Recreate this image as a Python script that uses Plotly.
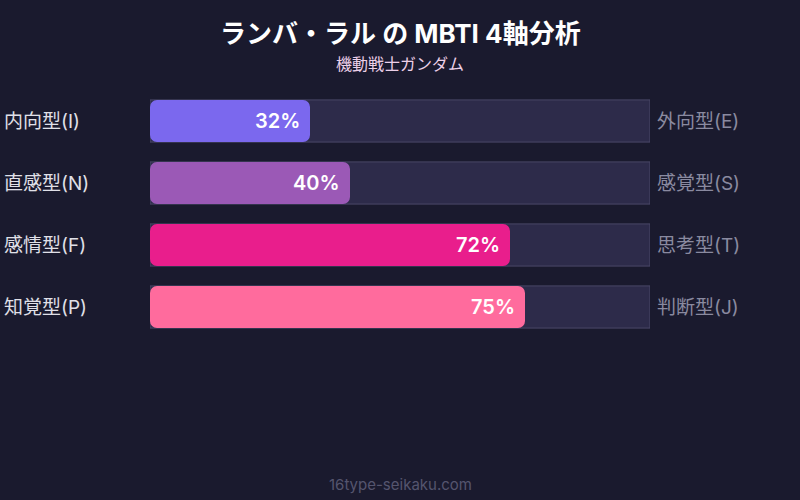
import plotly.graph_objects as go

# MBTI axes for the character
left_labels = ["内向型(I)", "直感型(N)", "感情型(F)", "知覚型(P)"]
right_labels = ["外向型(E)", "感覚型(S)", "思考型(T)", "判断型(J)"]
scores = [32, 40, 72, 75]
bar_colors = ["#7b68ee", "#9b59b6", "#e91e8c", "#ff6b9d"]
track_max = [100, 100, 100, 100]

FONT = "Inter, Noto Sans CJK JP, sans-serif"
BG = "#1a1a2e"
W, H = 800, 500
M_L, M_R, M_T, M_B = 150, 150, 90, 162

rows = list(range(len(scores)))

fig = go.Figure()
fig.add_trace(go.Bar(
    x=track_max, y=rows, orientation="h", width=0.68,
    marker=dict(color="#2d2b4a", line=dict(color="#4a4868", width=1)),
    hoverinfo="skip", showlegend=False,
))
# explicit base -> plotly rounds both ends of the bar
fig.add_trace(go.Bar(
    x=scores, base=[0] * len(scores), y=rows, orientation="h", width=0.68,
    marker=dict(color=bar_colors, cornerradius=7, line=dict(width=0)),
    hovertemplate="%{x}%<extra></extra>", showlegend=False,
))

for i, s in enumerate(scores):
    fig.add_annotation(x=s, y=i, xref="x", yref="y", text=f"{s}%",
                       xanchor="right", xshift=-8, showarrow=False,
                       font=dict(family=FONT, size=20, color="#ffffff", weight=600))
    fig.add_annotation(x=(2 - M_L) / (W - M_L - M_R), y=i, xref="paper", yref="y",
                       text=left_labels[i], xanchor="left", showarrow=False,
                       font=dict(family=FONT, size=19, color="#e0e0e8"))
    fig.add_annotation(x=(655 - M_L) / (W - M_L - M_R), y=i, xref="paper", yref="y",
                       text=right_labels[i], xanchor="left", showarrow=False,
                       font=dict(family=FONT, size=19, color="#8a8aa0"))

plot_h = H - M_T - M_B


def py(px_y):
    return (H - M_B - px_y) / plot_h


fig.add_annotation(x=0.5, y=py(33), xref="paper", yref="paper", yanchor="middle",
                   text="ランバ・ラル の MBTI 4軸分析", showarrow=False,
                   font=dict(family=FONT, size=26, color="#ffffff", weight="bold"))
fig.add_annotation(x=0.5, y=py(64), xref="paper", yref="paper", yanchor="middle",
                   text="機動戦士ガンダム", showarrow=False,
                   font=dict(family=FONT, size=16, color="#ecd0e8"))
fig.add_annotation(x=0.5, y=py(484), xref="paper", yref="paper", yanchor="middle",
                   text="16type-seikaku.com", showarrow=False,
                   font=dict(family=FONT, size=15, color="#55556e"))

fig.update_layout(
    width=W, height=H,
    paper_bgcolor=BG, plot_bgcolor=BG,
    barmode="overlay",
    margin=dict(l=M_L, r=M_R, t=M_T, b=M_B),
    xaxis=dict(range=[0, 100], visible=False, fixedrange=True),
    yaxis=dict(range=[3.5, -0.5], visible=False, fixedrange=True),
)

fig.write_html("out.html", config={"displayModeBar": False},
               post_script="document.body.style.margin='0';")
